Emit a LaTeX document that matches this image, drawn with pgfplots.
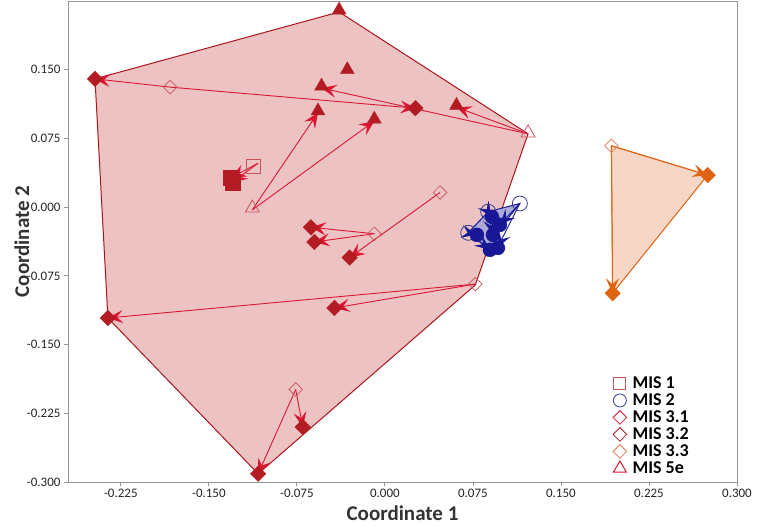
\documentclass[border=0pt]{standalone}
\usepackage{pgfplots}
\pgfplotsset{compat=1.18}
\usepackage{fontspec}
\setmainfont{Carlito}
\usetikzlibrary{arrows.meta}
\definecolor{hullfill}{RGB}{236,194,194}
\definecolor{hulledge}{RGB}{168,22,28}
\definecolor{darkred}{RGB}{178,28,34}
\definecolor{arrowred}{RGB}{218,22,50}
\definecolor{openred}{RGB}{200,84,88}
\definecolor{orangeline}{RGB}{222,100,20}
\definecolor{orangefill}{RGB}{246,214,196}
\definecolor{openorange}{RGB}{228,120,90}
\definecolor{navy}{RGB}{24,24,150}
\definecolor{bluefill}{RGB}{172,170,214}
\definecolor{openblue}{RGB}{50,60,140}
\definecolor{axisgray}{RGB}{150,150,150}
\tikzset{
  arr/.style={-{Stealth[length=15pt,width=13pt,inset=6pt]}, line width=0.9pt},
}
\begin{document}
\begin{tikzpicture}
\begin{axis}[
  scale only axis, width=669pt, height=481pt,
  xmin=-0.270, xmax=0.300, ymin=-0.300, ymax=0.225,
  axis line style={axisgray, line width=0.9pt},
  xtick={-0.225,-0.15,-0.075,0,0.075,0.15,0.225,0.3},
  ytick={-0.3,-0.225,-0.15,-0.075,0,0.075,0.15},
  tick align=outside, major tick length=4pt,
  tick style={axisgray, line width=0.8pt},
  xtick pos=bottom, ytick pos=left,
  /pgf/number format/fixed, /pgf/number format/fixed zerofill,
  /pgf/number format/precision=3, /pgf/number format/assume math mode=true,
  ticklabel style={font=\fontsize{13}{14}\selectfont, text=black!85},
  xlabel={Coordinate 1}, ylabel={Coordinate 2},
  label style={font=\fontsize{21}{24}\selectfont\bfseries, text=black!80},
  xlabel style={at={(axis description cs:0.5,-0.064)}, anchor=center},
  ylabel style={at={(axis description cs:-0.069,0.5)}, anchor=center},
  legend style={draw=none, fill=none, at={(axis description cs:0.813,0.224)}, anchor=north west,
    font=\fontsize{18}{18}\selectfont\bfseries, row sep=1pt, inner sep=1pt,
    nodes={inner sep=1.5pt, text height=11.5pt, text depth=1.5pt}},
  legend cell align=left,
  legend image code/.code={\path (-6pt,0pt) (11pt,0pt); \draw[#1] plot coordinates {(0pt,0pt)};},
]
% ---- hulls
\addplot[fill=hullfill, draw=hulledge, line width=1pt, forget plot] coordinates {
 (-0.039,0.213) (0.122,0.080) (0.077,-0.085) (-0.108,-0.291) (-0.236,-0.121) (-0.247,0.140) (-0.039,0.213)};
\addplot[fill=orangefill, draw=orangeline, line width=1pt, forget plot] coordinates {
 (0.193,0.067) (0.275,0.035) (0.194,-0.094) (0.193,0.067)};
\addplot[fill=bluefill, draw=navy, line width=1pt, forget plot] coordinates {
 (0.071,-0.028) (0.088,-0.005) (0.115,0.004) (0.097,-0.025) (0.090,-0.047) (0.071,-0.028)};
% ---- red arrows
\addplot[arrowred, arr, forget plot] coordinates {(-0.183,0.131) (-0.247,0.140)};
\addplot[arrowred, arr, forget plot] coordinates {(-0.183,0.131) (0.026,0.108)};
\addplot[arrowred, arr, forget plot] coordinates {(0.122,0.080) (-0.054,0.130)};
\addplot[arrowred, arr, forget plot] coordinates {(0.122,0.080) (0.061,0.109)};
\addplot[arrowred, arr, forget plot] coordinates {(-0.113,-0.003) (-0.057,0.103)};
\addplot[arrowred, arr, forget plot] coordinates {(-0.113,-0.003) (-0.009,0.094)};
\addplot[arrowred, arr, forget plot] coordinates {(-0.108,0.048) (-0.131,0.032)};
\addplot[arrowred, arr, forget plot] coordinates {(-0.108,0.048) (-0.130,0.027)};
\addplot[arrowred, arr, forget plot] coordinates {(0.047,0.016) (-0.030,-0.055)};
\addplot[arrowred, arr, forget plot] coordinates {(-0.009,-0.029) (-0.063,-0.022)};
\addplot[arrowred, arr, forget plot] coordinates {(-0.009,-0.029) (-0.060,-0.038)};
\addplot[arrowred, arr, forget plot] coordinates {(0.077,-0.084) (-0.236,-0.121)};
\addplot[arrowred, arr, forget plot] coordinates {(0.077,-0.084) (-0.043,-0.110)};
\addplot[arrowred, arr, forget plot] coordinates {(-0.076,-0.199) (-0.108,-0.291)};
\addplot[arrowred, arr, forget plot] coordinates {(-0.076,-0.199) (-0.070,-0.240)};
% ---- orange arrows
\addplot[orangeline, arr, forget plot] coordinates {(0.193,0.067) (0.275,0.035)};
\addplot[orangeline, arr, forget plot] coordinates {(0.193,0.067) (0.194,-0.094)};
% ---- blue arrows
\addplot[navy, arr, forget plot] coordinates {(0.115,0.004) (0.098,-0.019)};
\addplot[navy, arr, forget plot] coordinates {(0.115,0.004) (0.096,-0.044)};
\addplot[navy, arr, forget plot] coordinates {(0.071,-0.028) (0.078,-0.030)};
\addplot[navy, arr, forget plot] coordinates {(0.071,-0.028) (0.0895,-0.0466)};
\addplot[navy, arr, forget plot] coordinates {(0.088,-0.005) (0.091,-0.0106)};
\addplot[navy, arr, forget plot] coordinates {(0.088,-0.005) (0.092,-0.030)};
% ---- open markers
\addplot[only marks, openred, mark=square, mark size=7pt, mark options={draw=openred, line width=0.8pt}, forget plot] coordinates {(-0.112,0.045)};
\addplot[only marks, openred, mark=square, mark size=4.8pt, mark options={rotate=45, draw=openred, line width=0.7pt}, forget plot] coordinates {
 (-0.183,0.131) (0.047,0.016) (-0.009,-0.029) (0.077,-0.084) (-0.076,-0.199)};
\addplot[only marks, openorange, mark=square, mark size=4.8pt, mark options={rotate=45, draw=openorange, line width=0.7pt}, forget plot] coordinates {(0.193,0.067)};
\addplot[only marks, openred, mark=triangle, mark size=8pt, mark options={draw=openred, line width=0.8pt}, forget plot] coordinates {
 (0.122,0.081) (-0.113,-0.001)};
\addplot[only marks, openblue, mark=o, mark size=7.5pt, mark options={draw=openblue, line width=0.8pt}, forget plot] coordinates {
 (0.071,-0.028) (0.115,0.004) (0.088,-0.005)};
% ---- filled markers
\addplot[only marks, darkred, mark=square*, mark size=7.5pt, mark options={draw=darkred, fill=darkred}, forget plot] coordinates {
 (-0.131,0.032) (-0.130,0.027)};
\addplot[only marks, darkred, mark=square*, mark size=5.5pt, mark options={rotate=45, draw=darkred, fill=darkred}, forget plot] coordinates {
 (-0.247,0.140) (0.026,0.108) (-0.063,-0.022) (-0.060,-0.038) (-0.030,-0.055) (-0.043,-0.110) (-0.236,-0.121) (-0.108,-0.291) (-0.070,-0.240)};
\addplot[only marks, orangeline, mark=square*, mark size=5.5pt, mark options={rotate=45, draw=orangeline, fill=orangeline}, forget plot] coordinates {
 (0.275,0.035) (0.194,-0.094)};
\addplot[only marks, darkred, mark=triangle*, mark size=8pt, mark options={draw=darkred, fill=darkred}, forget plot] coordinates {
 (-0.039,0.215) (-0.032,0.150) (-0.054,0.132) (-0.057,0.105) (-0.009,0.096) (0.061,0.111)};
\addplot[only marks, navy, mark=*, mark size=7pt, mark options={draw=navy, fill=navy}, forget plot] coordinates {
 (0.0895,-0.0466) (0.0963,-0.0445) (0.0921,-0.0303) (0.0980,-0.0193) (0.0912,-0.0106) (0.0784,-0.0303)};
% ---- legend
\addlegendimage{only marks, openred, mark=square, mark size=6pt, mark options={draw=openred, line width=0.8pt}}
\addlegendentry{MIS 1}
\addlegendimage{only marks, openblue, mark=o, mark size=6.5pt, mark options={draw=openblue, line width=0.8pt}}
\addlegendentry{MIS 2}
\addlegendimage{only marks, arrowred, mark=square, mark size=4.8pt, mark options={rotate=45, draw=arrowred, line width=0.8pt}}
\addlegendentry{MIS 3.1}
\addlegendimage{only marks, darkred, mark=square, mark size=4.8pt, mark options={rotate=45, draw=darkred, line width=0.8pt}}
\addlegendentry{MIS 3.2}
\addlegendimage{only marks, openorange, mark=square, mark size=4.8pt, mark options={rotate=45, draw=openorange, line width=0.8pt}}
\addlegendentry{MIS 3.3}
\addlegendimage{only marks, arrowred, mark=triangle, mark size=7.5pt, mark options={draw=arrowred, line width=1pt}}
\addlegendentry{MIS 5e}
\end{axis}
\pgfresetboundingbox
\path[use as bounding box] ([shift={(-68pt,-44pt)}]current axis.south west) rectangle ([shift={(20pt,1pt)}]current axis.north east);
\end{tikzpicture}
\end{document}
